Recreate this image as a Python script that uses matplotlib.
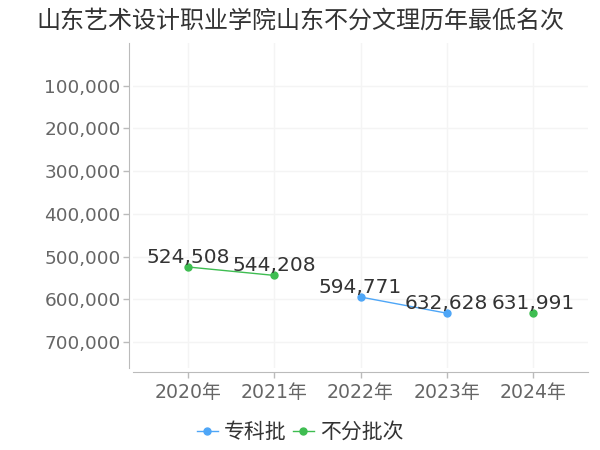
import matplotlib
matplotlib.use("Agg")
import matplotlib.pyplot as plt
from matplotlib.ticker import FuncFormatter

plt.rcParams['font.family'] = ['DejaVu Sans', 'Noto Sans CJK SC']

# data
years = ['2020年', '2021年', '2022年', '2023年', '2024年']
zhuanke_idx = [2, 3]
zhuanke_rank = [594771, 632628]
bufen_idx = [0, 1, 4]
bufen_rank = [524508, 544208, 631991]
yticks = [100000, 200000, 300000, 400000, 500000, 600000, 700000]

blue = '#4ea6f7'
green = '#3ebd51'
cjk = ['Noto Sans CJK SC', 'DejaVu Sans']

fig = plt.figure(figsize=(6, 4.5), dpi=100)
ax = fig.add_axes([133/600, 1-368/450, (588-133)/600, (368-43)/450])

# segments: only consecutive years are joined
ax.plot(zhuanke_idx, zhuanke_rank, color=blue, lw=1, marker='o', ms=5, label='专科批', zorder=3)
ax.plot(bufen_idx[:2], bufen_rank[:2], color=green, lw=1, marker='o', ms=5, label='不分批次', zorder=3)
ax.plot(bufen_idx[2:], bufen_rank[2:], color=green, lw=1, marker='o', ms=5, zorder=3)

for xs, ys in [(zhuanke_idx, zhuanke_rank), (bufen_idx, bufen_rank)]:
    for x, y in zip(xs, ys):
        ax.annotate(f'{y:,}', (x, y), xytext=(0, 0), textcoords='offset points',
                    ha='center', va='bottom', fontsize=14.5, color='#333333', zorder=4)

ax.set_xlim(-0.64, 4.64)
ax.set_ylim(761000, 0)
ax.set_xticks(range(len(years)))
ax.set_xticklabels(years)
ax.set_yticks(yticks)
ax.yaxis.set_major_formatter(FuncFormatter(lambda v, p: f'{int(v):,}'))
ax.tick_params(labelcolor='#666666', color='#bbbbbb', length=4, width=1)
ax.tick_params(axis='y', labelsize=13.3, pad=2)
ax.tick_params(axis='x', labelsize=13.6, pad=4)
ax.grid(True, color='#f4f4f4', lw=1)
ax.set_axisbelow(True)

for s in ['top', 'right']:
    ax.spines[s].set_visible(False)
for s in ['left', 'bottom']:
    ax.spines[s].set_color('#bbbbbb')
    ax.spines[s].set_position(('outward', 3))

fig.suptitle('山东艺术设计职业学院山东不分文理历年最低名次', fontsize=17.3, color='#333333',
             y=0.982, family=cjk)
fig.legend(loc='center', bbox_to_anchor=(0.5, 1-432/450), ncol=2, frameon=False,
           prop={'family': cjk, 'size': 15}, handlelength=1.0, handletextpad=0.3,
           columnspacing=0.3, labelcolor='#333333')

fig.savefig('out.png', dpi=100)
